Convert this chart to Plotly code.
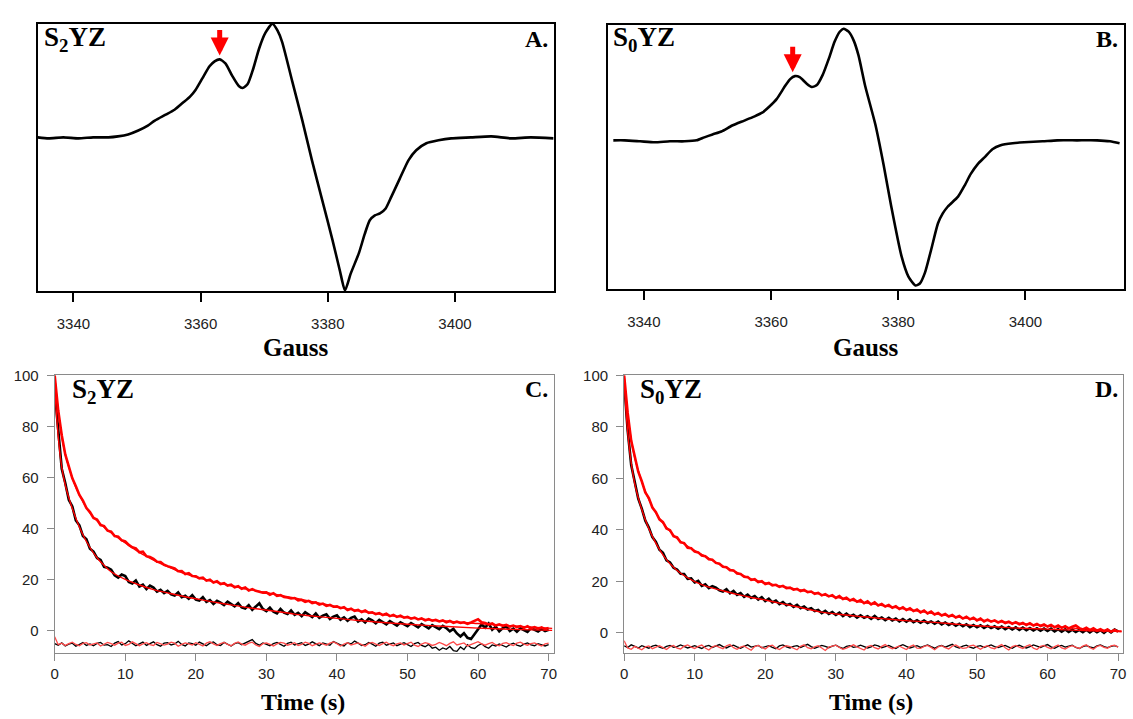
import numpy as np
import plotly.graph_objects as go

# ---------------- EPR spectra (panels A, B) ----------------
A_field = [3334.4, 3336.1, 3338.4, 3340.8, 3343.1, 3345.5, 3347.0, 3348.6, 3350.2, 3351.7,
           3352.8, 3354.5, 3355.9, 3357.2, 3358.3, 3359.2, 3360.3, 3361.4, 3362.2, 3363.0,
           3363.9, 3365.0, 3366.0, 3366.6, 3367.4, 3368.3, 3369.2, 3370.2, 3371.3, 3372.1,
           3372.8, 3374.4, 3376.0, 3377.5, 3379.1, 3380.7, 3381.9, 3382.7, 3383.6, 3384.9,
           3385.8, 3386.6, 3387.4, 3388.2, 3389.1, 3390.0, 3391.3, 3392.7, 3393.9, 3395.5,
           3397.4, 3399.4, 3402.5, 3405.7, 3408.8, 3411.9, 3415.5]
A_signal = [0, -1, 0, -1, 0, 0, 1, 3, 7, 12,
            17, 23, 28, 35, 41, 48, 60, 72, 77, 79,
            75, 62, 52, 50, 54, 70, 90, 106, 115, 108,
            97, 57, 17, -23, -63, -103, -135, -155, -138, -117,
            -98, -84, -79, -77, -72, -60, -42, -23, -13, -6,
            -3, -1, 0, 1, -1, 0, -1]

B_field = [3335.2, 3337.0, 3339.4, 3341.7, 3344.1, 3346.4, 3348.3, 3349.5, 3350.8, 3352.2,
           3353.9, 3355.8, 3357.3, 3358.6, 3359.7, 3360.9, 3362.2, 3363.0, 3363.75, 3364.5,
           3365.5, 3366.4, 3367.2, 3368.1, 3369.1, 3370.0, 3370.8, 3371.4, 3372.2, 3373.0,
           3373.75, 3374.8, 3376.4, 3377.7, 3378.9, 3380.5, 3381.6, 3382.7, 3383.4, 3384.2,
           3385.2, 3386.25, 3387.0, 3387.8, 3389.4, 3390.5, 3391.4, 3392.5, 3393.6, 3394.8,
           3396.1, 3398.0, 3399.8, 3402.7, 3405.0, 3408.1, 3411.25, 3413.3, 3414.8]
B_signal = [0, 0, -1, -2, -1, -1, 0, 3, 6, 9,
            15, 20, 24, 28, 34, 42, 55, 62, 65, 64,
            58, 54, 56, 66, 83, 100, 110, 113, 110, 101,
            86, 55, 16, -25, -67, -117, -138, -147, -145, -134,
            -110, -84, -74, -67, -57, -45, -34, -24, -17, -9,
            -5, -3, -2, -1, 0, 0, 0, -1, -3]

A_arrow = (3363.0, 83)
B_arrow = (3363.4, 69)
field_ticks = [3340, 3360, 3380, 3400]

# ---------------- Kinetics (panels C, D), sampled every 0.5 s ----------------
time_s = np.arange(141) * 0.5

C_red = [100, 86.2, 76.5, 69.0, 64.3, 59.6, 56.5, 53.1, 50.9, 48.0,
         46.4, 44.1, 43.5, 41.3, 40.9, 39.1, 38.7, 37.0, 36.7, 35.3,
         34.9, 33.5, 32.6, 32.2, 30.6, 30.9, 29.1, 28.8, 28.1, 26.9,
         26.8, 25.7, 25.2, 24.6, 24.3, 23.2, 23.3, 22.1, 22.4, 21.3,
         21.2, 20.4, 20.7, 19.5, 19.9, 18.8, 19.3, 18.2, 18.5, 17.6,
         17.9, 16.9, 17.3, 16.3, 16.8, 15.6, 16.2, 15.5, 15.2, 14.8,
         14.9, 14.0, 14.6, 13.5, 13.8, 13.1, 12.9, 12.5, 12.7, 11.8,
         12.0, 11.2, 11.6, 10.7, 11.0, 10.1, 10.5, 9.6, 10.0, 9.3,
         9.4, 8.7, 9.1, 8.0, 8.5, 7.7, 8.0, 7.2, 7.8, 6.9,
         7.1, 6.4, 6.8, 6.0, 6.5, 5.6, 6.1, 5.3, 5.8, 5.0,
         5.3, 4.6, 5.0, 4.3, 4.7, 3.9, 4.4, 3.8, 4.1, 3.5,
         3.9, 3.2, 3.7, 3.0, 3.4, 2.9, 3.2, 2.6, 3.1, 3.7,
         4.4, 3.2, 2.9, 2.3, 2.7, 1.9, 2.4, 1.8, 2.2, 1.5,
         1.9, 1.3, 1.7, 1.0, 1.6, 0.8, 1.3, 0.7, 1.2, 0.5,
         0.9]
C_black = [94, 77.2, 63.4, 57.8, 51.2, 48.6, 43.1, 41.2, 37.0, 35.7,
           32.0, 30.9, 28.4, 27.6, 24.9, 24.6, 23.8, 21.6, 20.7, 21.9,
           21.3, 19.0, 18.4, 19.6, 17.2, 17.9, 16.2, 17.6, 16.8, 15.2,
           15.9, 14.6, 15.5, 14.1, 13.7, 14.9, 13.0, 13.6, 12.4, 13.8,
           12.1, 11.7, 13.0, 11.2, 11.9, 10.4, 11.6, 10.9, 9.9, 11.3,
           10.2, 9.4, 10.7, 9.0, 8.6, 9.9, 8.1, 9.2, 10.6, 8.4,
           7.6, 8.9, 7.3, 6.7, 8.4, 7.0, 6.4, 7.8, 6.1, 6.9,
           5.6, 7.1, 6.2, 5.2, 6.6, 4.9, 5.8, 6.3, 4.5, 5.4,
           5.9, 4.2, 5.1, 3.8, 4.9, 5.4, 3.5, 4.3, 3.1, 4.6,
           3.9, 2.8, 4.1, 3.3, 2.4, 3.6, 2.9, 1.9, 3.2, 2.3,
           1.7, 2.9, 2.2, 1.2, 2.5, 1.6, 0.8, 2.1, 1.4, 0.5,
           1.8, 0.9, -0.4, 0.6, -1.2, -2.4, -1.1, -2.9, -3.4, -1.6,
           0.4, 2.3, 1.1, 2.7, 0.3, 1.5, -0.4, 0.9, 1.6, -0.2,
           0.7, -0.5, 0.8, 0.1, -0.6, 0.9, 0.2, -0.4, 0.6, -0.3,
           0.2]
C_black_base = [-5.2, -5.8, -4.9, -6.1, -5.4, -5.0, -6.2, -5.5, -4.8, -5.9,
                -5.3, -6.0, -5.1, -4.7, -5.8, -5.6, -6.3, -5.0, -4.4, -5.7,
                -5.2, -4.1, -5.0, -6.0, -5.3, -4.6, -5.9, -5.1, -4.5, -5.6,
                -6.2, -5.0, -4.8, -5.7, -5.3, -4.3, -5.5, -6.1, -4.9, -5.2,
                -5.8, -4.6, -5.4, -6.0, -5.0, -4.5, -5.6, -5.9, -4.7, -5.3,
                -6.1, -5.2, -4.8, -5.6, -5.0, -4.2, -3.6, -5.1, -5.8, -4.9,
                -5.4, -6.0, -5.2, -4.7, -5.5, -6.2, -5.1, -4.6, -5.7, -5.3,
                -4.8, -5.9, -5.4, -4.5, -5.2, -6.0, -4.9, -5.5, -5.8, -4.4,
                -5.1, -5.7, -6.1, -4.8, -5.3, -4.2, -5.0, -5.9, -5.6, -4.7,
                -5.4, -6.2, -5.0, -4.6, -5.8, -5.3, -4.9, -6.0, -5.5, -4.8,
                -5.6, -6.3, -5.2, -4.7, -5.9, -6.4, -5.5, -7.0, -6.6, -7.8,
                -6.9, -7.4, -6.3, -7.9, -8.2, -6.5, -7.5, -5.6, -6.8, -7.1,
                -5.9, -5.2, -6.4, -7.0, -5.7, -6.1, -5.3, -5.9, -6.5, -5.6,
                -5.0, -5.8, -6.2, -5.4, -4.9, -5.7, -6.0, -5.2, -5.5, -6.1,
                -5.6]
C_red_base = [-2.5, -5.6, -5.0, -5.9, -5.2, -4.6, -5.5, -6.0, -5.1, -4.8,
              -5.7, -5.3, -4.9, -6.1, -5.4, -4.7, -5.2, -5.8, -5.0, -4.6,
              -5.9, -5.5, -4.5, -5.1, -6.0, -5.3, -4.8, -5.6, -5.9, -4.7,
              -5.2, -5.8, -5.4, -4.6, -5.0, -6.2, -5.5, -4.9, -5.3, -5.7,
              -4.8, -5.6, -6.1, -5.0, -4.4, -5.3, -5.9, -5.2, -4.7, -5.5,
              -6.0, -5.1, -4.5, -5.4, -5.8, -5.0, -4.6, -5.7, -6.3, -5.2,
              -4.9, -5.5, -6.1, -5.3, -4.7, -5.0, -5.8, -5.4, -4.8, -5.9,
              -5.5, -4.6, -5.1, -6.0, -5.6, -4.9, -5.3, -5.8, -5.0, -4.5,
              -5.2, -6.1, -5.4, -4.8, -5.7, -5.3, -4.9, -5.6, -6.2, -5.1,
              -4.7, -5.4, -5.9, -5.2, -4.6, -5.5, -6.0, -5.3, -4.9, -5.7,
              -5.1, -4.6, -5.8, -6.3, -5.4, -4.8, -5.2, -5.9, -5.5, -4.7,
              -5.3, -6.0, -5.1, -4.5, -5.7, -5.4, -4.9, -6.1, -5.6, -5.0,
              -4.4, -5.3, -5.8, -5.2, -4.7, -5.6, -6.0, -5.1, -4.8, -5.5,
              -5.9, -5.0, -4.6, -5.4, -5.8, -5.2, -4.9, -5.6, -6.1, -5.3,
              -5.0]

D_red = [100, 85.4, 74.6, 68.3, 62.6, 58.9, 54.6, 52.4, 48.7, 46.9,
         44.1, 43.0, 40.6, 39.9, 37.6, 37.1, 35.2, 34.9, 33.1, 32.9,
         31.6, 31.3, 30.1, 29.8, 28.6, 28.4, 27.2, 26.9, 25.7, 25.5,
         24.4, 24.3, 23.1, 22.9, 21.8, 21.7, 20.6, 20.9, 19.8, 20.1,
         19.0, 19.4, 18.5, 18.7, 17.9, 18.3, 17.4, 17.6, 16.8, 17.1,
         16.3, 16.7, 15.9, 16.1, 15.2, 15.6, 14.6, 15.1, 14.2, 14.7,
         13.6, 14.3, 13.2, 13.7, 12.6, 13.2, 12.1, 12.8, 11.6, 12.3,
         11.1, 11.9, 10.7, 11.3, 10.3, 10.9, 9.8, 10.4, 9.3, 10.0,
         8.9, 9.6, 8.5, 9.1, 8.0, 8.7, 7.6, 8.3, 7.2, 7.8,
         6.8, 7.4, 6.4, 7.0, 6.0, 6.6, 5.6, 6.3, 5.3, 5.9,
         4.9, 5.6, 4.5, 5.2, 4.4, 4.9, 4.1, 4.7, 3.9, 4.4,
         3.6, 4.2, 3.4, 3.9, 3.1, 3.8, 2.9, 3.5, 2.7, 3.3,
         2.5, 3.1, 2.2, 2.9, 2.0, 2.6, 1.8, 2.4, 2.9, 1.9,
         1.4, 2.0, 1.1, 1.8, 0.9, 1.5, 0.7, 1.4, 0.5, 1.2,
         0.5]
D_black = [97, 78.6, 65.2, 58.9, 52.1, 48.3, 43.6, 40.9, 37.2, 35.4,
           32.3, 31.1, 28.2, 27.4, 25.3, 24.6, 23.0, 22.9, 21.0, 21.2,
           19.6, 20.2, 18.3, 18.9, 17.4, 18.2, 17.6, 16.6, 16.1, 17.0,
           15.4, 16.3, 14.8, 15.5, 14.0, 14.9, 13.6, 14.3, 13.0, 13.9,
           12.4, 13.3, 11.9, 12.6, 11.2, 12.0, 10.8, 11.3, 10.1, 10.9,
           9.6, 10.3, 9.1, 9.6, 8.5, 8.9, 7.7, 8.6, 7.4, 8.1,
           7.0, 7.9, 6.6, 7.5, 6.4, 7.1, 6.0, 6.9, 5.9, 6.5,
           5.5, 6.6, 5.4, 6.0, 5.0, 5.9, 4.9, 5.6, 4.5, 5.4,
           4.4, 5.3, 4.2, 4.9, 4.0, 4.8, 3.9, 4.5, 3.6, 4.4,
           3.3, 4.1, 3.1, 3.8, 2.8, 3.6, 2.6, 3.4, 2.3, 3.1,
           2.2, 3.0, 2.0, 2.8, 1.9, 2.6, 1.7, 2.5, 1.5, 2.3,
           1.4, 2.2, 1.2, 2.1, 1.1, 1.9, 1.0, 1.8, 0.9, 1.7,
           0.8, 1.7, 0.6, 1.5, 0.5, 1.4, 0.4, 1.3, 0.4, 1.2,
           0.3, 1.3, 0.2, 1.2, 0.3, 1.1, 0.1, 1.2, 0.2, 1.3,
           0.6]
D_black_base = [-5.0, -5.6, -4.6, -5.2, -5.8, -4.9, -5.4, -5.9, -5.1, -4.7,
                -5.5, -5.9, -5.2, -4.8, -5.6, -5.3, -4.6, -5.1, -5.8, -5.4,
                -4.9, -5.5, -6.0, -5.2, -4.8, -5.6, -5.0, -4.5, -5.3, -5.8,
                -5.1, -4.7, -5.4, -5.9, -5.2, -4.6, -5.5, -5.1, -4.8, -5.7,
                -5.3, -4.9, -5.6, -6.1, -5.0, -4.6, -5.4, -5.8, -5.2, -4.9,
                -5.6, -5.0, -4.4, -5.3, -5.9, -5.4, -4.8, -5.2, -5.7, -5.1,
                -4.7, -5.5, -6.0, -5.2, -4.9, -5.6, -5.3, -4.7, -5.1, -5.8,
                -5.4, -4.6, -5.0, -5.7, -5.3, -4.8, -5.5, -6.0, -5.1, -4.5,
                -5.2, -5.8, -5.4, -4.9, -5.6, -5.1, -4.6, -5.3, -5.9, -5.2,
                -4.8, -5.5, -5.0, -4.4, -5.4, -5.8, -5.1, -4.7, -5.5, -5.9,
                -5.2, -4.9, -5.6, -5.0, -4.6, -5.3, -5.7, -5.2, -4.8, -5.5,
                -5.9, -5.1, -4.7, -5.4, -5.8, -5.3, -4.6, -5.1, -5.6, -5.0,
                -4.5, -5.4, -5.9, -5.2, -4.8, -5.5, -5.1, -4.7, -5.6, -6.0,
                -5.3, -4.9, -5.4, -5.8, -5.0, -4.6, -5.3, -5.7, -5.2, -4.9,
                -5.4]
D_red_base = [-3.0, -5.8, -6.3, -5.2, -5.9, -6.5, -5.4, -5.0, -6.1, -5.6,
              -4.9, -5.7, -6.4, -5.3, -4.8, -5.9, -6.2, -5.1, -4.6, -5.5,
              -6.0, -5.2, -4.7, -5.8, -6.6, -5.4, -4.9, -5.6, -6.1, -5.0,
              -4.5, -5.7, -6.3, -5.5, -5.0, -5.9, -6.7, -5.3, -4.8, -5.6,
              -6.2, -5.1, -4.7, -5.8, -6.4, -5.5, -4.9, -5.3, -6.0, -6.5,
              -5.2, -4.6, -5.7, -6.1, -5.4, -4.9, -5.8, -6.8, -5.5, -5.0,
              -4.7, -5.6, -6.3, -5.9, -5.1, -4.6, -5.4, -6.0, -6.6, -5.3,
              -4.8, -5.7, -6.2, -5.2, -4.5, -5.5, -6.1, -5.6, -5.0, -5.8,
              -6.4, -5.3, -4.7, -5.9, -6.0, -5.2, -4.8, -5.6, -6.5, -5.4,
              -4.9, -5.7, -6.2, -5.1, -4.6, -5.5, -6.0, -5.8, -5.0, -4.7,
              -5.6, -6.3, -5.4, -4.9, -5.8, -6.1, -5.2, -4.5, -5.7, -6.6,
              -5.3, -4.8, -5.5, -6.0, -5.1, -4.6, -5.9, -6.4, -5.2, -4.8,
              -5.6, -6.1, -5.3, -4.7, -5.8, -6.2, -5.4, -4.9, -5.5, -6.0,
              -5.1, -4.6, -5.7, -6.3, -5.2, -4.8, -5.6, -5.9, -5.0, -4.7,
              -5.5]

# fitted decay curves
fit_time = [0, 0.5, 1, 1.5, 2, 3, 4, 5, 6, 7, 8, 10, 12, 14, 16, 18, 20, 22, 25, 28,
            31, 34, 37, 40, 43, 46, 50, 55, 60, 65, 70.5]
C_red_fit = [100, 86, 76, 69, 64, 56, 50.5, 46, 43, 40.5, 38.3, 34.3, 30.6, 27.6, 25, 22.7,
             20.9, 19.4, 17.5, 15.8, 14.3, 12.7, 11, 9.2, 7.7, 6.4, 5, 3.7, 2.7, 1.7, 0.8]
C_black_fit = [95, 76, 64, 57, 52, 44, 37.5, 32.5, 28.5, 25.5, 23, 20, 17.8, 16, 14.7, 13.5,
               12.4, 11.4, 10, 8.7, 7.6, 6.4, 5.5, 4.7, 3.9, 3.2, 2.4, 1.6, 0.9, 0.4, 0.0]
D_red_fit = [100, 85, 75, 68, 63, 55, 49, 44.5, 41, 38, 35.5, 32, 29, 26, 23.5, 21,
             19.4, 18.3, 16.7, 14.9, 13.4, 11.8, 10.5, 9.2, 7.9, 6.7, 5.2, 3.9, 2.7, 1.6, 0.5]
D_black_fit = [97, 78, 66, 58, 52.5, 44, 37.5, 32.5, 28.5, 25.5, 23.2, 19.9, 17.8, 16.4, 15,
               13.8, 12.8, 11.6, 9.9, 8.1, 7.1, 6.3, 5.5, 4.8, 4.3, 3.7, 2.8, 2.0, 1.5, 1.0, 0.8]

time_ticks = [0, 10, 20, 30, 40, 50, 60, 70]
pct_ticks = [0, 20, 40, 60, 80, 100]

# ---------------- figure ----------------
W, H = 1133, 719
def px(x):
    return x / W
def py(y):
    return 1 - y / H

RED = "#ff0000"
RED_BASE = "#ff4a4a"

fig = go.Figure()

fig.add_trace(go.Scatter(x=A_field, y=A_signal, xaxis="x", yaxis="y", mode="lines",
                         line=dict(color="black", width=2.6, shape="spline", smoothing=0.6)))
fig.add_trace(go.Scatter(x=B_field, y=B_signal, xaxis="x2", yaxis="y2", mode="lines",
                         line=dict(color="black", width=2.6, shape="spline", smoothing=0.6)))

for ax, bb, rb, bd, rd, bf, rf in [("3", C_black_base, C_red_base, C_black, C_red, C_black_fit, C_red_fit),
                                   ("4", D_black_base, D_red_base, D_black, D_red, D_black_fit, D_red_fit)]:
    xa, ya = "x" + ax, "y" + ax
    fig.add_trace(go.Scatter(x=time_s, y=bb, xaxis=xa, yaxis=ya, mode="lines",
                             line=dict(color="black", width=1.3)))
    fig.add_trace(go.Scatter(x=time_s, y=rb, xaxis=xa, yaxis=ya, mode="lines",
                             line=dict(color=RED_BASE, width=1.3)))
    fig.add_trace(go.Scatter(x=time_s, y=bd, xaxis=xa, yaxis=ya, mode="lines",
                             line=dict(color="black", width=2.6)))
    fig.add_trace(go.Scatter(x=time_s, y=rd, xaxis=xa, yaxis=ya, mode="lines",
                             line=dict(color=RED, width=2.6)))
    fig.add_trace(go.Scatter(x=fit_time, y=bf, xaxis=xa, yaxis=ya, mode="lines",
                             line=dict(color=RED, width=1.4, shape="spline")))
    fig.add_trace(go.Scatter(x=fit_time, y=rf, xaxis=xa, yaxis=ya, mode="lines",
                             line=dict(color=RED, width=1.4, shape="spline")))

tick_font = dict(family="Liberation Sans, Arial, sans-serif", size=15, color="#222")
tick_font2 = dict(family="Liberation Sans, Arial, sans-serif", size=15, color="#222")

def epr_x(dom, anchor):
    return dict(domain=dom, anchor=anchor, range=[3334.4, 3415.5], showline=True, linecolor="black",
                linewidth=2, mirror=True, ticks="outside", ticklen=9, tickwidth=2, tickcolor="black",
                tickvals=field_ticks, tickfont=tick_font, ticklabelstandoff=9,
                showgrid=False, zeroline=False, fixedrange=True)

def epr_y(dom, anchor, rng):
    return dict(domain=dom, anchor=anchor, range=rng, showline=True, linecolor="black", linewidth=2,
                mirror=True, ticks="", showticklabels=False, showgrid=False, zeroline=False)

def kin_x(dom, anchor):
    return dict(domain=dom, anchor=anchor, range=[0, 70.7], showline=True, linecolor="#8a8a8a",
                linewidth=1, mirror=True, ticks="outside", ticklen=7, tickwidth=1, tickcolor="#8a8a8a",
                tickvals=time_ticks, tickfont=tick_font2, ticklabelstandoff=0,
                showgrid=False, zeroline=False)

def kin_y(dom, anchor, rng):
    return dict(domain=dom, anchor=anchor, range=rng, showline=True, linecolor="#8a8a8a",
                linewidth=1, mirror=True, ticks="outside", ticklen=7, tickwidth=1, tickcolor="#8a8a8a",
                tickvals=pct_ticks, tickfont=tick_font2, ticklabelstandoff=5,
                showgrid=False, zeroline=False)

serif = "Liberation Serif, Times New Roman, serif"
annotations = []
def label(text, x, y, xanchor, size=25):
    annotations.append(dict(text=text, x=px(x), y=py(y), xref="paper", yref="paper",
                            xanchor=xanchor, yanchor="middle", showarrow=False,
                            font=dict(family=serif, size=size, color="black", weight="bold")))

label("S<sub>2</sub>YZ", 38, 30, "left", 27)
label("A.", 549, 30, "right", 24)
label("S<sub>0</sub>YZ", 611, 30, "left", 27)
label("B.", 1123, 30, "right", 24)
label("S<sub>2</sub>YZ", 66, 387, "left", 27)
label("C.", 549, 385, "right", 24)
label("S<sub>0</sub>YZ", 638, 387, "left", 27)
label("D.", 1123, 385, "right", 24)
label("Gauss", 293.5, 343, "center", 25)
label("Gauss", 867.5, 343, "center", 25)
label("Time (s)", 301, 702, "center", 24)
label("Time (s)", 872, 702, "center", 24)

for xr, yr, (ax_x, ax_y) in [("x", "y", A_arrow), ("x2", "y2", B_arrow)]:
    annotations.append(dict(x=ax_x, y=ax_y, xref=xr, yref=yr, text="", showarrow=True,
                            ax=0, ay=-27, arrowcolor=RED, arrowwidth=5, arrowhead=2,
                            arrowsize=0.72))

fig.update_layout(
    width=W, height=H, margin=dict(l=0, r=0, t=0, b=0),
    paper_bgcolor="white", plot_bgcolor="white", showlegend=False,
    xaxis=epr_x([px(34), px(553)], "y"),
    yaxis=epr_y([py(286), py(15)], "x", [-156, 115]),
    xaxis2=epr_x([px(608), px(1127)], "y2"),
    yaxis2=epr_y([py(284), py(16)], "x2", [-151, 117]),
    xaxis3=kin_x([px(51), px(553)], "y3"),
    yaxis3=kin_y([py(652), py(371)], "x3", [-8.8, 100]),
    xaxis4=kin_x([px(624), px(1126)], "y4"),
    yaxis4=kin_y([py(652), py(371)], "x4", [-7.7, 100]),
    annotations=annotations,
)

fig.write_html("out.html")
